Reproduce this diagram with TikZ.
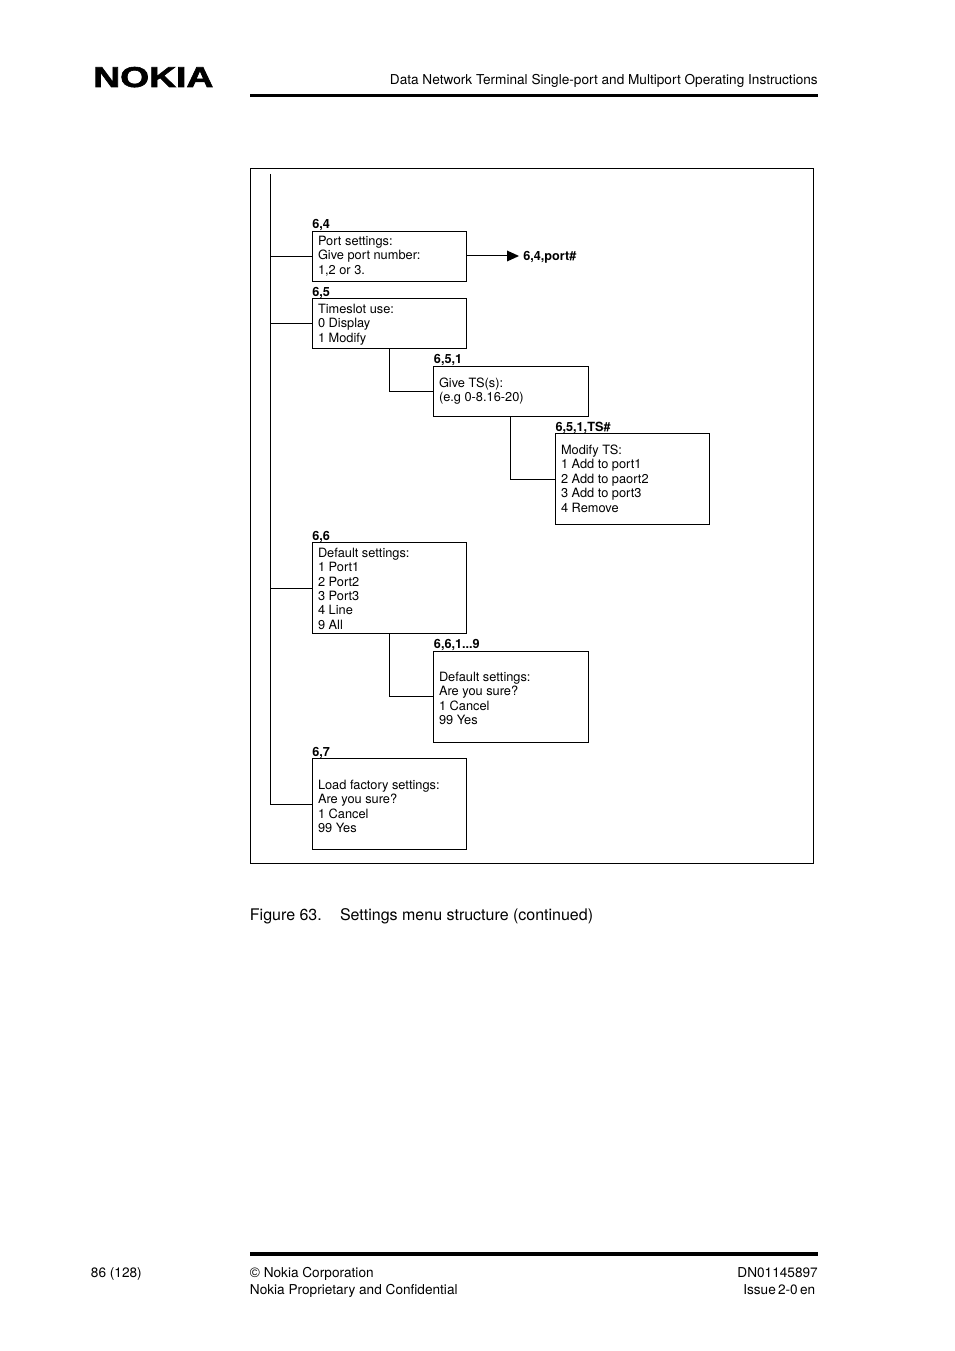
\documentclass[tikz,border=0pt]{standalone}
\usepackage{fontspec}
\setmainfont{TeX Gyre Heros}
\newfontfamily\logofont[BoldFeatures={FakeBold=2}]{Liberation Sans}
\newfontfamily\copyfont{Liberation Sans}
\newdimen\pxunit \pxunit=0.75pt
\newcommand{\boxfont}{\fontsize{9.6pt}{10.8pt}\selectfont}
\newcommand{\tagfont}{\fontsize{9.5pt}{10.8pt}\selectfont\bfseries}
\newcommand{\pagefont}{\fontsize{10.22pt}{12pt}\selectfont}
% width (px), height (px), top offset (px), lines
\newcommand{\boxbody}[4]{\parbox[c][#2\pxunit][t]{#1\pxunit}{\vspace*{#3\pxunit}\leftskip=4.2pt\relax\boxfont\parindent=0pt #4}}
\begin{document}
\begin{tikzpicture}[x=0.75pt,y=-0.75pt,
  menubox/.style={draw=black,line width=0.6pt,inner sep=0pt,anchor=north west},
  wire/.style={draw=black,line width=0.75pt},
  tag/.style={anchor=base west,inner sep=0pt,font=\tagfont},
  pagetext/.style={anchor=base west,inner sep=0pt,font=\pagefont},
  pagetextr/.style={anchor=base east,inner sep=0pt,font=\pagefont},
  captext/.style={anchor=base west,inner sep=0pt,font=\fontsize{12pt}{14pt}\selectfont},
  rulebar/.style={draw=black,line width=2.5pt}]
\useasboundingbox (0,0) rectangle (954,1351);
% logo and header
\node[anchor=base west,inner sep=0pt] (logo) at (93,87) {\scalebox{1.3}[1.0]{\logofont\bfseries\fontsize{21.5pt}{21.5pt}\selectfont NOKIA}};
\node[pagetextr] (head) at (818,84.5) {Data Network Terminal Single-port and Multiport Operating Instructions};
\coordinate (hrA) at (250,95.5); \coordinate (hrB) at (818,95.5);
\draw[rulebar] (hrA) -- (hrB);
% frame
\node[menubox,minimum width=563*0.75pt,minimum height=695*0.75pt] (frame) at (250,168) {};
% boxes
\node[menubox] (b64) at (312,231) {\boxbody{154}{50}{4.6}{Port settings:\\Give port number:\\1,2 or 3.}};
\node[menubox] (b65) at (312,298) {\boxbody{154}{50}{5.6}{Timeslot use:\\0 Display\\1 Modify}};
\node[menubox] (b651) at (433,366) {\boxbody{155}{50}{11.6}{Give TS(s):\\(e.g 0-8.16-20)}};
\node[menubox] (b651ts) at (555,433) {\boxbody{154}{91}{11.6}{Modify TS:\\1 Add to port1\\2 Add to paort2\\3 Add to port3\\4 Remove}};
\node[menubox] (b66) at (312,542) {\boxbody{154}{91}{5.6}{Default settings:\\1 Port1\\2 Port2\\3 Port3\\4 Line\\9 All}};
\node[menubox] (b661) at (433,651) {\boxbody{155}{91}{20.6}{Default settings:\\Are you sure?\\1 Cancel\\99 Yes}};
\node[menubox] (b67) at (312,758) {\boxbody{154}{91}{21.6}{Load factory settings:\\Are you sure?\\1 Cancel\\99 Yes}};
% tags
\node[tag] (t64) at (312,228.5) {6,4};
\node[tag] (t65) at (312,296.5) {6,5};
\node[tag] (t651) at (433.7,363.5) {6,5,1};
\node[tag] (t651ts) at (555.3,431) {6,5,1,TS\#};
\node[tag] (t66) at (312,540) {6,6};
\node[tag] (t661) at (433.7,648.5) {6,6,1...9};
\node[tag] (t67) at (312,756) {6,7};
\node[tag] (port) at (523,260.5) {6,4,port\#};
% connectors
\coordinate (trunkTop) at (270.5,174);
\coordinate (trunkBot) at (270.5,804.5);
\draw[wire] (trunkTop) -- (trunkBot) -- (b67.west |- trunkBot);
\coordinate (j64) at (270.5,256.5);
\coordinate (j65) at (270.5,323.5);
\coordinate (j66) at (270.5,588);
\draw[wire] (j64) -- (b64.west |- j64);
\draw[wire] (j65) -- (b65.west |- j65);
\draw[wire] (j66) -- (b66.west |- j66);
\coordinate (e1) at (389.5,349);
\coordinate (e1b) at (389.5,391.5);
\draw[wire] (e1) -- (e1b) -- (b651.west |- e1b);
\coordinate (e2) at (510.5,417);
\coordinate (e2b) at (510.5,479.5);
\draw[wire] (e2) -- (e2b) -- (b651ts.west |- e2b);
\coordinate (e3) at (389.5,634);
\coordinate (e3b) at (389.5,696.5);
\draw[wire] (e3) -- (e3b) -- (b661.west |- e3b);
% arrow
\coordinate (arrowEnd) at (519,256);
\draw[wire] (b64.east |- arrowEnd) -- (507,256);
\fill[black] (507,250.5) -- (arrowEnd) -- (507,261.5) -- cycle;
% caption
\node[captext] (capA) at (249.7,920) {Figure 63.};
\node[captext] (capB) at (339.8,920) {Settings menu structure (continued)};
% footer
\coordinate (frA) at (250,1254); \coordinate (frB) at (818,1254);
\draw[rulebar] (frA) -- (frB);
\node[pagetext] (f1) at (90.7,1277) {86 (128)};
\node[pagetext] (f2) at (249.7,1277) {{\copyfont ©} Nokia Corporation};
\node[pagetext] (f3) at (249.7,1294) {Nokia Proprietary and Confidential};
\node[pagetextr] (f4) at (818,1277) {DN01145897};
\node[pagetext] (f5) at (743,1294) {Issue\,2-0\,en};
\end{tikzpicture}
\end{document}
